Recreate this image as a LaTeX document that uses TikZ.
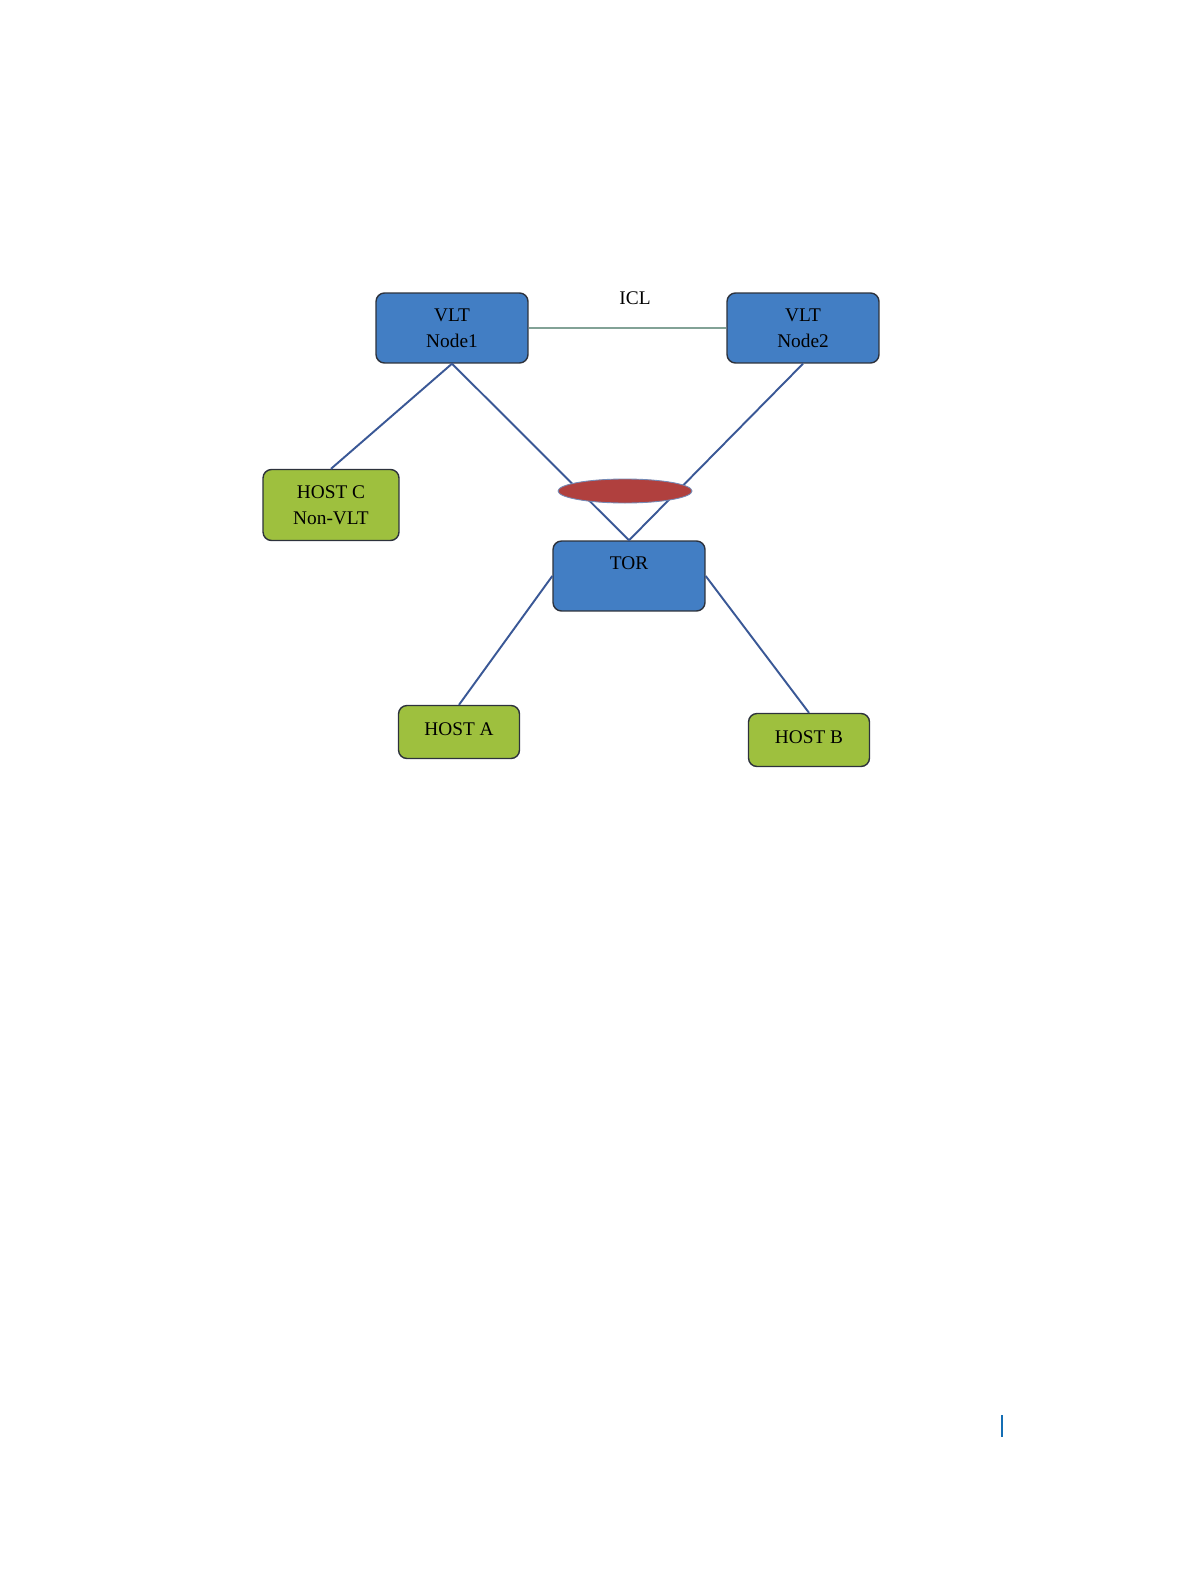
\documentclass[tikz,border=0pt]{standalone}
\usepackage{fontspec}
\setmainfont{Liberation Serif}
\usepackage{tikz}
\usetikzlibrary{calc, positioning}
\definecolor{BoxBlue}{RGB}{66,126,196}
\definecolor{HostGreen}{RGB}{158,192,62}
\definecolor{LagRed}{RGB}{176,64,62}
\definecolor{LinkBlue}{RGB}{58,88,150}
\definecolor{IclGrey}{RGB}{130,162,150}
\definecolor{EdgeDark}{RGB}{45,50,60}
\definecolor{BarBlue}{RGB}{20,110,180}

\begin{document}
\begin{tikzpicture}[x=0.02cm, y=-0.02cm,
  font=\fontsize{11}{14.7}\selectfont,
  vltbox/.style={draw=EdgeDark, fill=BoxBlue, rounded corners=0.17cm, line width=0.8pt,
                 minimum width=3.04cm, minimum height=1.4cm, align=center, inner sep=0pt},
  hostbox/.style={draw=EdgeDark, fill=HostGreen, rounded corners=0.17cm, line width=0.8pt,
                  minimum width=2.42cm, minimum height=1.06cm, align=center, inner sep=0pt},
  link/.style={LinkBlue, line width=1.1pt}]
  \useasboundingbox (0,0) rectangle (1189,1581);
  \node[vltbox] (node1) at (452,328) {VLT\\Node1};
  \node[vltbox] (node2) at (803,328) {VLT\\Node2};
  \node (icl) at (635,298) {ICL};
  \node[hostbox, minimum width=2.72cm, minimum height=1.42cm] (hostc) at (331,505) {HOST C\\Non-VLT};
  \node[vltbox] (tor) at (629,576) {TOR\\~};
  \node[hostbox, text depth=3.4pt] (hosta) at (459,732) {HOST A};
  \node[hostbox, text depth=3.4pt] (hostb) at (809,740) {HOST B};
  \draw[IclGrey, line width=0.9pt] (node1.east) -- (node2.west);
  \foreach \a/\b in {node1.south/hostc.north, node1.south/tor.north, node2.south/tor.north,
                     tor.west/hosta.north, tor.east/hostb.north}
    \draw[link] (\a) -- (\b);
  % port channel
  \filldraw[fill=LagRed, draw=LinkBlue!70, line width=0.5pt] (625,491) ellipse (67 and 12);
  \draw[BarBlue, line width=1.6pt] (1002,1415) -- (1002,1437);
\end{tikzpicture}
\end{document}
